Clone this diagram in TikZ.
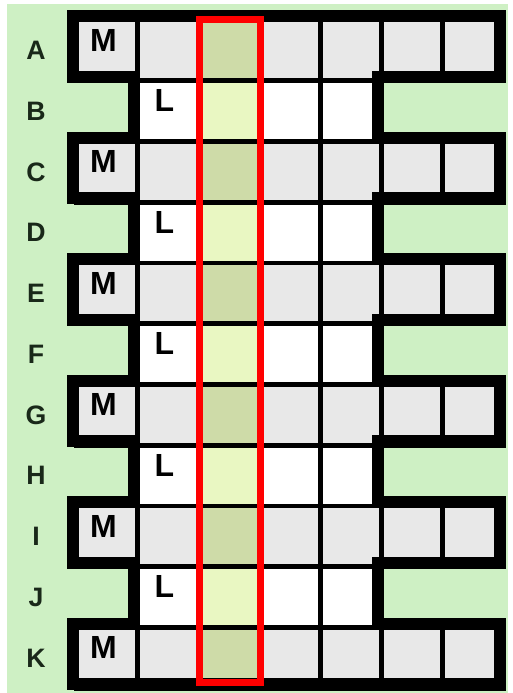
\documentclass[tikz,border=0pt]{standalone}
\usepackage{fontspec}
\setmainfont{Liberation Sans}
\usepackage{xcolor}
\definecolor{field}{RGB}{206, 240, 196}
\definecolor{cellgray}{RGB}{232, 232, 232}
\definecolor{olive}{RGB}{206, 219, 168}
\definecolor{lime}{RGB}{233, 247, 194}
\definecolor{hilite}{RGB}{255, 0, 0}
\definecolor{ink}{RGB}{25, 40, 25}
\tikzset{
    cell/.style={draw=black, line width=3.4pt},
    rim/.style={draw=black, line width=9pt, line join=miter},
    lbl/.style={font=\fontsize{20}{20}\selectfont\bfseries, text=ink, inner sep=0pt},
    tag/.style={font=\fontsize{24}{24}\selectfont\bfseries, text=black, inner sep=0pt},
    frame/.style={draw=hilite, line width=5.25pt}
}

\begin{document}
\begin{tikzpicture}[x=0.75pt, y=-0.75pt]
    \fill[white] (0,0) rectangle (513,693);
    \useasboundingbox (0,0) rectangle (513,693);
    \fill[field] (7,4) rectangle (508,693);
    % cells
    \begin{scope}[shift={(76.5,20)}, x=45.75pt, y=-45.5625pt]
        \foreach \j in {0,2,...,10}
            \foreach \i/\c in {0/cellgray,1/cellgray,2/olive,3/cellgray,4/cellgray,5/cellgray,6/cellgray}
                \filldraw[cell, fill=\c] (\i,\j) rectangle ({\i+1},{\j+1});
        \foreach \j in {1,3,...,9}
            \foreach \i/\c in {1/white,2/lime,3/white,4/white}
                \filldraw[cell, fill=\c] (\i,\j) rectangle ({\i+1},{\j+1});
    \end{scope}
    % thick outline
    \begin{scope}[shift={(73,16)}, x=45.75pt, y=-45.5625pt]
        \draw[rim] (0,0) -- (7,0)
            \foreach \j in {1,3,...,9} { -- (7,\j) -- (5,\j) -- (5,{\j+1}) -- (7,{\j+1}) }
            -- (7,11) -- (0,11)
            \foreach \j in {9,7,...,1} { -- (0,{\j+1}) -- (1,{\j+1}) -- (1,\j) -- (0,\j) }
            -- cycle;
    \end{scope}
    % labels
    \foreach \r [count=\j from 0] in {A,...,K}
        \node[lbl] (row-\r) at (36,{50.4+60.75*\j}) {\r};
    \foreach \j in {0,2,...,10}
        \node[tag] (m-\j) at (103.5,{40+60.75*\j}) {M};
    \foreach \j in {1,3,...,9}
        \node[tag] (l-\j) at (164.5,{40+60.75*\j}) {L};
    \draw[frame] (199,19) rectangle (260,682);
\end{tikzpicture}
\end{document}
